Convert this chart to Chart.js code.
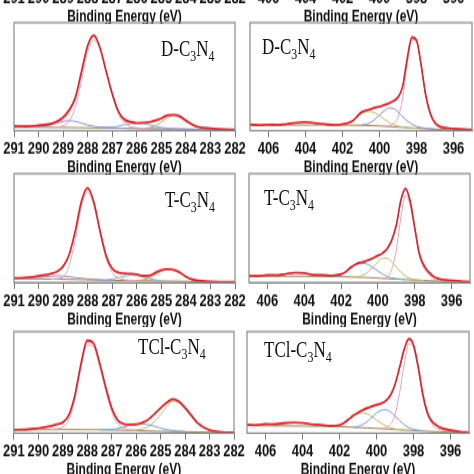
<!DOCTYPE html>
<html>
<head>
<meta charset="utf-8">
<script src="https://cdn.jsdelivr.net/npm/chart.js@4.4.1/dist/chart.umd.min.js"></script>
<style>
  html, body { margin: 0; padding: 0; background: #fff; }
  body { position: relative; width: 474px; height: 474px; overflow: hidden; }
  .panel { position: absolute; transform: scaleY(1.3); transform-origin: 0 0; }
  .tag { position: absolute; font: 17px/1 "Liberation Serif", "Times New Roman", serif; color: #111;
         white-space: nowrap; transform: scaleY(1.3); transform-origin: 0 0; }
  .tag sub { font-size: 0.7em; vertical-align: -0.3em; line-height: 0; }
</style>
</head>
<body>
<script>
// XPS C 1s / N 1s, intensities in % of panel height
const cTicks = [291, 290, 289, 288, 287, 286, 285, 284, 283, 282];
const nTicks = [406, 404, 402, 400, 398, 396];

const cGrid = [291, 290.5, 290, 289.5, 289.25, 289, 288.75, 288.5, 288.25, 288, 287.75, 287.5, 287.25, 287, 286.75,
  286.5, 286.25, 286, 285.75, 285.5, 285.25, 285, 284.75, 284.5, 284.25, 284, 283.75, 283.5, 283, 282.5, 282];
const nGrid = [407, 406.5, 406, 405.5, 405, 404.5, 404, 403.5, 403, 402.5, 402, 401.75, 401.5, 401.25, 401, 400.75,
  400.5, 400.25, 400, 399.75, 399.5, 399.25, 399, 398.75, 398.5, 398.25, 398, 397.75, 397.5, 397.25, 397, 396.75,
  396.5, 396, 395.5, 395];

// D-C3N4 C 1s
const dcRaw = [4.3, 4.0, 4.9, 6.4, 8.6, 12.5, 19.5, 31, 55, 79, 88.5, 77, 55, 34, 18, 10.5, 8.2, 7.2, 7.4, 8.0, 9.6,
  11.5, 14.5, 14.8, 13.4, 9.5, 6.0, 3.6, 2.2, 1.3, 1.0];
const dcFit = [4.0, 4.2, 4.6, 6.0, 7.8, 11, 17.4, 29.4, 53, 77.5, 87, 76.6, 56, 35, 17.4, 9.3, 7.5, 6.9, 6.9, 7.5, 8.7,
  11, 13.5, 14.1, 12.3, 8.7, 5.4, 3.3, 1.8, 1.2, 0.9];
const dcBg = [[291, 3.3], [289, 3.0], [287, 2.4], [285, 1.6], [283, 1.0], [282, 0.8]];
const dcPk1 = [[291, 3.3], [290.5, 3.4], [290, 3.8], [289.5, 5.2], [289.25, 7], [289, 8.6], [288.75, 9.2], [288.5, 8.6],
  [288.25, 7], [288, 5.2], [287.5, 3.2], [287, 2.5], [286, 2.0], [282, 0.8]];
const dcPk2 = [[289.5, 3.2], [289, 4.5], [288.75, 9], [288.5, 22], [288.25, 47], [288, 73], [287.75, 84], [287.5, 75],
  [287.25, 55], [287, 33], [286.75, 15.5], [286.5, 7], [286.25, 3.8], [286, 2.6], [285.5, 1.8]];
const dcPk3 = [[287.5, 3.1], [287, 3.3], [286.75, 4.3], [286.5, 5.6], [286.25, 6.5], [286, 6.8], [285.75, 6.5],
  [285.5, 5.5], [285.25, 4.2], [285, 3.0], [284.5, 1.8], [284, 1.4]];
const dcPk4 = [[286, 2.0], [285.5, 2.6], [285.25, 4.5], [285, 8], [284.75, 12.3], [284.5, 14], [284.25, 12.3], [284, 8.5],
  [283.75, 5.2], [283.5, 3.2], [283, 1.5], [282.5, 1.0]];

// D-C3N4 N 1s
const dnRaw = [5.8, 5.0, 5.6, 5.3, 6.3, 7.4, 8.0, 7.0, 6.2, 5.3, 6.0, 7.0, 8.6, 12.5, 16.8, 18.6, 19.8, 21.5, 22.4, 23.8,
  25.4, 27.6, 31, 41, 67, 86.5, 84, 61, 33, 16, 7.4, 4.2, 2.8, 1.9, 1.3, 1.0];
const dnFit = [5.4, 5.2, 5.4, 5.6, 6.0, 7.0, 7.8, 7.2, 6.0, 5.6, 6.2, 6.5, 8.0, 12, 16, 18.0, 19.4, 20.8, 22.0, 23.2,
  24.8, 27, 30, 40, 66, 85.5, 83, 60, 32, 15, 6.5, 3.6, 2.6, 1.6, 1.2, 0.9];
const dnBg = [[407, 5.2], [403, 5.3], [402, 5.2], [401, 5.0], [400, 4.4], [399, 3.4], [398, 2.2], [397, 1.3], [396, 0.9],
  [395, 0.8]];
const dnPk1 = [[402.25, 5.2], [402, 5.5], [401.75, 6.5], [401.5, 8.5], [401.25, 12], [401, 15.5], [400.75, 17.3],
  [400.5, 17.7], [400.25, 16.5], [400, 14], [399.75, 10.8], [399.5, 7.8], [399.25, 5.5], [399, 4.2], [398.5, 3], [398, 2.2]];
const dnPk2 = [[401, 5.0], [400.75, 5.8], [400.5, 7.5], [400.25, 10.5], [400, 14.5], [399.75, 18.3], [399.5, 21],
  [399.25, 20.5], [399, 17.5], [398.75, 13], [398.5, 9], [398.25, 6], [398, 4], [397.5, 2.2], [397, 1.4]];
const dnPk3 = [[399.75, 4], [399.5, 4.5], [399.25, 6.5], [399, 12], [398.75, 30], [398.5, 62], [398.25, 84], [398, 82],
  [397.75, 59], [397.5, 31], [397.25, 14], [397, 6], [396.75, 3], [396.5, 2], [396, 1.2]];

// T-C3N4 C 1s
const tcRaw = [4.2, 4.6, 6.2, 8.2, 10.2, 15, 26, 48, 75, 87, 74, 48, 25, 13, 9.4, 8.4, 8.2, 7.6, 6.3, 6.4, 9.0, 11.6,
  12.4, 11.8, 9.4, 5.6, 3.0, 1.8, 1.0, 0.7, 0.6];
const tcFit = [3.9, 4.8, 5.8, 7.7, 9.8, 14, 25, 47, 74, 85.5, 73, 47, 24, 12, 8.6, 7.7, 7.8, 7.2, 5.8, 6.0, 8.6, 11.0,
  12.0, 11.2, 8.9, 5.2, 2.7, 1.6, 0.8, 0.6, 0.6];
const tcBg = [[291, 3.6], [289, 3.0], [287, 2.0], [285, 1.4], [283, 0.8], [282, 0.6]];
const tcPk1 = [[291, 3.6], [290.5, 4.0], [290, 4.8], [289.5, 5.8], [289.25, 6.2], [289, 6.0], [288.75, 5.4], [288.5, 4.6],
  [288, 3.4], [287.5, 2.5], [287, 2.0]];
const tcPk2 = [[289.5, 3.2], [289, 5], [288.75, 16], [288.5, 40], [288.25, 70], [288, 83], [287.75, 71], [287.5, 45],
  [287.25, 22], [287, 9], [286.75, 4.5], [286.5, 2.6], [286, 1.8]];
const tcPk3 = [[287.25, 2.2], [287, 3.2], [286.75, 4.5], [286.5, 5.8], [286.25, 6.6], [286, 6.4], [285.75, 5.3],
  [285.5, 3.8], [285.25, 2.5], [285, 1.6]];
const tcPk4 = [[286, 1.8], [285.75, 2.5], [285.5, 4.2], [285.25, 7.2], [285, 10.2], [284.75, 11.8], [284.5, 11],
  [284.25, 8.7], [284, 5.2], [283.75, 2.7], [283.5, 1.5], [283, 0.8]];

// T-C3N4 N 1s
const tnRaw = [6.3, 6.0, 6.9, 6.8, 7.9, 9.2, 8.8, 7.0, 7.1, 6.5, 7.8, 9.9, 13.6, 16.5, 18.3, 19.2, 20.9, 22.8, 24.8,
  27.1, 31.2, 39, 53, 76, 86.5, 75, 50.5, 26.5, 15.8, 9.8, 6.0, 3.9, 2.9, 2.0, 1.2, 0.7];
const tnFit = [6.0, 6.2, 6.6, 7.0, 7.6, 8.8, 8.4, 7.2, 6.8, 6.7, 7.4, 9.5, 13, 16, 17.8, 18.9, 20.3, 22.3, 24.2, 26.5,
  30.5, 38, 52, 75, 85, 73, 50, 26, 15.2, 9.3, 5.5, 3.5, 2.6, 1.7, 1.0, 0.6];
const tnBg = [[407, 6.0], [404, 5.8], [402, 5.4], [400.5, 4.6], [399.5, 3.6], [398.5, 2.7], [397.5, 1.8], [396, 1.0],
  [395, 0.6]];
const tnPk1 = [[402.5, 5.3], [402.25, 5.8], [402, 7], [401.75, 9.3], [401.5, 12.5], [401.25, 15.6], [401, 17.4],
  [400.75, 17.6], [400.5, 16.3], [400.25, 13.6], [400, 10.6], [399.75, 7.8], [399.5, 5.6], [399.25, 4.3], [399, 3.6],
  [398.5, 2.7]];
const tnPk2 = [[401.25, 4.9], [401, 5.6], [400.75, 7.3], [400.5, 10.2], [400.25, 14.4], [400, 19], [399.75, 22.4],
  [399.5, 22.2], [399.25, 19], [399, 14.3], [398.75, 9.6], [398.5, 6], [398.25, 3.8], [398, 2.8], [397.5, 1.9]];
const tnPk3 = [[399.75, 3.8], [399.5, 5], [399.25, 12], [399, 30], [398.75, 60], [398.5, 80], [398.25, 71], [398, 48],
  [397.75, 24], [397.5, 13], [397.25, 7.5], [397, 4.2], [396.5, 2.0], [396, 1.2]];

// TCl-C3N4 C 1s
const tclcRaw = [3.5, 3.6, 5.0, 6.9, 8.9, 10.6, 18, 38, 69, 91.5, 89, 70, 46, 25, 12.8, 9.3, 8.6, 8.7, 10.4, 13.6, 19.2,
  24.8, 30.2, 33.8, 31.2, 25.2, 17.8, 10.4, 3.0, 1.2, 0.7];
const tclcFit = [3.2, 3.8, 4.7, 6.5, 8, 10.2, 17, 37, 68, 90, 88, 69, 45, 24, 11.8, 8.4, 7.9, 8.2, 9.7, 13, 18.3, 24.3,
  29.3, 32.6, 30.6, 24, 17, 9.7, 2.8, 1.0, 0.6];
const tclcBg = [[291, 3.2], [289, 3.6], [287.5, 3.4], [286, 2.6], [285, 1.8], [283, 0.9], [282, 0.6]];
const tclcPk1 = [[289.5, 3.8], [289, 6], [288.75, 13], [288.5, 33], [288.25, 65], [288, 87], [287.75, 85], [287.5, 66],
  [287.25, 42], [287, 21], [286.75, 9], [286.5, 4.8], [286.25, 3.2], [286, 2.6]];
const tclcPk2 = [[287.5, 3.4], [287, 3.7], [286.75, 4.6], [286.5, 6.2], [286.25, 7.8], [286, 8.8], [285.75, 9.0],
  [285.5, 8.3], [285.25, 6.8], [285, 5.0], [284.75, 3.5], [284.5, 2.5], [284, 1.6]];
const tclcPk3 = [[286.25, 2.8], [286, 3.2], [285.75, 4.2], [285.5, 6.5], [285.25, 11.5], [285, 18.5], [284.75, 26],
  [284.5, 31.5], [284.25, 30], [284, 23.5], [283.75, 16.5], [283.5, 9.3], [283.25, 5], [283, 2.6], [282.5, 1.0]];

// TCl-C3N4 N 1s
const tclnRaw = [8.4, 8.0, 9.1, 8.8, 10.0, 10.6, 10.3, 8.6, 8.3, 7.1, 8.0, 10.2, 13.8, 17.6, 20.3, 22.8, 24.9, 26.5,
  28.0, 29.4, 32, 37.3, 48, 65, 83, 93, 87, 66, 39, 20.4, 11.6, 7.8, 5.2, 2.9, 1.5, 0.7];
const tclnFit = [8.1, 8.3, 8.7, 9.2, 9.6, 10.2, 10.0, 8.9, 8.0, 7.4, 7.6, 9.8, 13.2, 17, 19.7, 22.1, 24.2, 25.9, 27.3,
  28.8, 31.3, 36.5, 47, 64, 82, 92, 86, 65, 38, 19.5, 11, 7.3, 4.8, 2.6, 1.3, 0.6];
const tclnBg = [[407, 7.4], [404, 7.0], [402, 6.5], [400.5, 5.2], [399, 3.6], [398, 2.6], [397, 1.6], [396, 1.0],
  [395, 0.6]];
const tclnPk1 = [[402.5, 6.6], [402.25, 7.0], [402, 7.8], [401.75, 9.8], [401.5, 13], [401.25, 16.6], [401, 19.2],
  [400.75, 20], [400.5, 19], [400.25, 16.3], [400, 13], [399.75, 9.8], [399.5, 7.2], [399.25, 5.3], [399, 4.2], [398.5, 3.2]];
const tclnPk2 = [[401.25, 5.9], [401, 6.6], [400.75, 8.4], [400.5, 11.5], [400.25, 15.6], [400, 19.8], [399.75, 22.6],
  [399.5, 23], [399.25, 21], [399, 17], [398.75, 12.4], [398.5, 8.3], [398.25, 5.5], [398, 3.8], [397.5, 2.2]];
const tclnPk3 = [[399.75, 4.6], [399.5, 5.5], [399.25, 8.5], [399, 18], [398.75, 40], [398.5, 68], [398.25, 88], [398, 84],
  [397.75, 63], [397.5, 36], [397.25, 18], [397, 9], [396.75, 5], [396.5, 3], [396, 1.6]];

const RED = "#d3262e", FIT = "#f2868a", MAIN = "#e8a4b4", PURPLE = "#9d92c9", LBLUE = "#85b6d6",
  BLUE = "#7fa6d8", ORANGE = "#e3a256", OLIVE = "#bcc27a", BG = "#a3865a";
const S = 1.3; // the figure is stretched vertically

function line(pairs, color, width) {
  return {
    data: pairs.map(([x, y]) => ({ x, y })),
    borderColor: color,
    borderWidth: width,
    pointRadius: 0,
    fill: false,
    cubicInterpolationMode: "monotone",
  };
}
function spectrum(grid, vals, color, width) {
  return line(grid.map((x, i) => [x, vals[i]]), color, width);
}

const frame = {
  id: "frame",
  afterDatasetsDraw(chart) {
    const { ctx, chartArea: a } = chart;
    ctx.save();
    ctx.strokeStyle = "#8a8a8a";
    ctx.lineWidth = 1.2;
    ctx.strokeRect(a.left, a.top, a.right - a.left, a.bottom - a.top);
    ctx.restore();
  },
};

const C_AXIS = { left: 0, width: 262, padL: 14, padR: 27, min: 282, max: 291, ticks: cTicks };
const N_AXIS = { left: 237, width: 237, padL: 13, padR: 2, min: 395, max: 407, ticks: nTicks };

const panels = [
  // axis of the row above, mostly cut off
  { ...C_AXIS, top: -69, bottom: -17, sets: [] },
  { ...N_AXIS, top: -69, bottom: -17, sets: [] },
  { ...C_AXIS, top: 23, bottom: 134, sets: [
    spectrum(cGrid, dcRaw, RED, 1.6), spectrum(cGrid, dcFit, FIT, 1.1), line(dcPk2, MAIN, 1),
    line(dcPk1, PURPLE, 1), line(dcPk3, LBLUE, 1), line(dcPk4, ORANGE, 1), line(dcBg, BG, 1)] },
  { ...N_AXIS, top: 23, bottom: 134, sets: [
    spectrum(nGrid, dnRaw, RED, 1.6), spectrum(nGrid, dnFit, FIT, 1.1), line(dnPk3, MAIN, 1),
    line(dnPk1, OLIVE, 1), line(dnPk2, PURPLE, 1), line(dnBg, BG, 1)] },
  { ...C_AXIS, top: 174, bottom: 286, sets: [
    spectrum(cGrid, tcRaw, RED, 1.6), spectrum(cGrid, tcFit, FIT, 1.1), line(tcPk2, MAIN, 1),
    line(tcPk1, PURPLE, 1), line(tcPk3, LBLUE, 1), line(tcPk4, ORANGE, 1), line(tcBg, BG, 1)] },
  { ...N_AXIS, padL: 12, padR: 4, top: 174, bottom: 286, sets: [
    spectrum(nGrid, tnRaw, RED, 1.6), spectrum(nGrid, tnFit, FIT, 1.1), line(tnPk3, MAIN, 1),
    line(tnPk1, BLUE, 1), line(tnPk2, OLIVE, 1), line(tnBg, BG, 1)] },
  { ...C_AXIS, padL: 13, padR: 28, top: 332, bottom: 436.5, sets: [
    spectrum(cGrid, tclcRaw, RED, 1.6), spectrum(cGrid, tclcFit, FIT, 1.1), line(tclcPk1, MAIN, 1),
    line(tclcPk2, BLUE, 1), line(tclcPk3, OLIVE, 1), line(tclcBg, BG, 1)] },
  { ...N_AXIS, padL: 10, padR: 5, top: 332, bottom: 436.5, sets: [
    spectrum(nGrid, tclnRaw, RED, 1.6), spectrum(nGrid, tclnFit, FIT, 1.1), line(tclnPk3, MAIN, 1),
    line(tclnPk1, OLIVE, 1), line(tclnPk2, BLUE, 1), line(tclnBg, BG, 1)] },
];

const tags = [
  { html: "D-C<sub>3</sub>N<sub>4</sub>", x: 161, y: 42 },
  { html: "D-C<sub>3</sub>N<sub>4</sub>", x: 262, y: 40 },
  { html: "T-C<sub>3</sub>N<sub>4</sub>", x: 165, y: 193 },
  { html: "T-C<sub>3</sub>N<sub>4</sub>", x: 264, y: 191 },
  { html: "TCl-C<sub>3</sub>N<sub>4</sub>", x: 138, y: 340 },
  { html: "TCl-C<sub>3</sub>N<sub>4</sub>", x: 264, y: 343 },
];

const boldFont = (size) => ({ family: "'Liberation Sans', Arial, sans-serif", size, weight: "bold", lineHeight: 1 });

panels.forEach((p) => {
  const padTop = 2;
  const h = (p.bottom - p.top) / S;
  const div = document.createElement("div");
  div.className = "panel";
  div.style.left = p.left + "px";
  div.style.width = p.width + "px";
  div.style.top = p.top - padTop * S + "px";
  div.style.height = padTop + h + 31.5 + "px";
  const cv = document.createElement("canvas");
  div.appendChild(cv);
  document.body.appendChild(div);

  new Chart(cv, {
    type: "line",
    data: { datasets: p.sets },
    options: {
      responsive: true,
      maintainAspectRatio: false,
      animation: false,
      events: [],
      layout: { padding: { left: p.padL, right: p.padR, top: padTop, bottom: 0 } },
      plugins: { legend: { display: false }, tooltip: { enabled: false } },
      scales: {
        x: {
          type: "linear",
          reverse: true,
          min: p.min,
          max: p.max,
          afterBuildTicks: (axis) => {
            axis.ticks = p.ticks.map((v) => ({ value: v }));
          },
          ticks: { color: "#111", font: boldFont(13), padding: 3, maxRotation: 0, autoSkip: false },
          grid: { drawOnChartArea: false, drawTicks: true, tickLength: 5, color: "#7a7a7a", lineWidth: 1 },
          border: { display: true, color: "#7a7a7a", width: 1 },
          title: {
            display: true,
            text: "Binding Energy (eV)",
            color: "#111",
            font: boldFont(12),
            padding: { top: -1.5, bottom: 0 },
          },
        },
        y: { display: false, min: 0, max: 100 },
      },
    },
    plugins: [frame],
  });
});

tags.forEach((t) => {
  const d = document.createElement("div");
  d.className = "tag";
  d.innerHTML = t.html;
  d.style.left = t.x + "px";
  d.style.top = t.y - 3 * S + "px";
  document.body.appendChild(d);
});
</script>
</body>
</html>
